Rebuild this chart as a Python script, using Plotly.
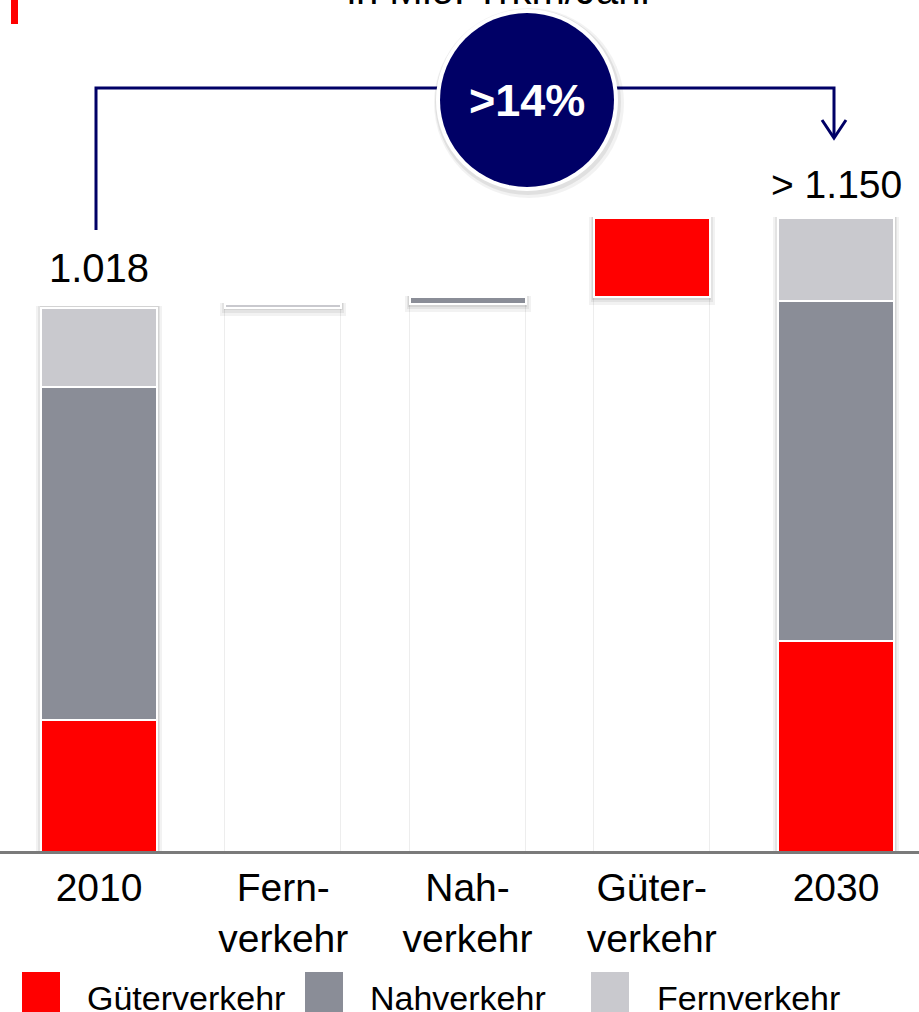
import plotly.graph_objects as go

# Categories and segment values (Mio. Trkm/Jahr)
categories = ["2010", "Fern-<br>verkehr", "Nah-<br>verkehr", "Güter-<br>verkehr", "2030"]
is_total = [True, False, False, False, True]
gueterverkehr = [247, 0, 0, 148, 395]
nahverkehr = [623, 0, 13, 0, 636]
fernverkehr = [148, 7, 0, 0, 155]
series_names = ["Güterverkehr", "Nahverkehr", "Fernverkehr"]
series_values = [gueterverkehr, nahverkehr, fernverkehr]
series_colors = ["#FF0000", "#8A8D97", "#C9C9CE"]
total_label_2010 = "1.018"
total_label_2030 = "> 1.150"
growth_label = ">14%"
unit_label = "in Mio. Trkm/Jahr"

W, H = 919, 1012
M_BOTTOM = 160
PLOT_H = H - M_BOTTOM
Y_MAX = 1594.3
STEP = 184.25
X0 = 99
FONT = "Liberation Sans, Arial, sans-serif"
NAVY = "#000066"


def fx(p):
    return p / W


def fy(p):
    return (PLOT_H - p) / PLOT_H


# stacking: total columns stack from zero, change columns float on the running total
n = len(categories)
bases = [[0.0] * n for _ in series_values]
running = 0.0
col_bottom, col_top = [], []
for i in range(n):
    if is_total[i]:
        acc = 0.0
        for s, vals in enumerate(series_values):
            bases[s][i] = acc
            acc += vals[i]
        col_bottom.append(0.0)
        col_top.append(acc)
        running = acc
    else:
        start = running
        for s, vals in enumerate(series_values):
            bases[s][i] = running
            running += vals[i]
        col_bottom.append(start)
        col_top.append(running)

xs = list(range(n))
bar_w = 116 / STEP
px_unit = PLOT_H / Y_MAX

fig = go.Figure()

# faint empty column under the floating change bars
fig.add_trace(go.Bar(
    x=xs, y=[col_bottom[i] if not is_total[i] else 0 for i in xs], base=0,
    width=bar_w, marker=dict(color="white", line=dict(color="rgba(0,0,0,0.07)", width=1)),
    showlegend=False, hoverinfo="skip"))

# soft shadows around each column
for extra, alpha in [(10, 0.05), (6, 0.06), (3, 0.07)]:
    sb = [col_bottom[i] - (0 if is_total[i] else extra * 0.8 / px_unit) for i in xs]
    st = [col_top[i] + 1.5 / px_unit for i in xs]
    fig.add_trace(go.Bar(
        x=xs, y=[t - b for t, b in zip(st, sb)], base=sb,
        width=bar_w + extra / STEP,
        marker=dict(color=f"rgba(0,0,0,{alpha})", line=dict(width=0)),
        showlegend=False, hoverinfo="skip"))

for s, (name, vals, col) in enumerate(zip(series_names, series_values, series_colors)):
    fig.add_trace(go.Bar(
        x=xs, y=vals, base=bases[s], name=name, width=bar_w,
        marker=dict(color=col, line=dict(color="white", width=2)),
        showlegend=False))

shapes = []
annotations = []

# baseline
shapes.append(dict(type="line", xref="paper", yref="paper", x0=0, x1=1, y0=fy(852.5), y1=fy(852.5),
                   line=dict(color="#7A7A7A", width=3)))

# red corner marker
shapes.append(dict(type="rect", xref="paper", yref="paper", x0=fx(11), x1=fx(18),
                   y0=fy(24), y1=fy(-5), fillcolor="#FF0000", line=dict(width=0)))

# connector from 2010 to 2030
shapes.append(dict(type="path", xref="paper", yref="paper",
                   path=f"M {fx(96)} {fy(230)} L {fx(96)} {fy(88)} L {fx(440)} {fy(88)}",
                   line=dict(color=NAVY, width=3)))
shapes.append(dict(type="path", xref="paper", yref="paper",
                   path=f"M {fx(614)} {fy(88)} L {fx(834)} {fy(88)} L {fx(834)} {fy(137)}",
                   line=dict(color=NAVY, width=3)))
shapes.append(dict(type="path", xref="paper", yref="paper",
                   path=f"M {fx(822)} {fy(120)} L {fx(834)} {fy(138)} L {fx(846)} {fy(120)}",
                   line=dict(color=NAVY, width=3)))

# growth badge
cx, cy = 527, 100
for r, dx, dy, fill in [(95, 2, 3, "rgba(0,0,0,0.05)"), (93, 1, 2, "rgba(0,0,0,0.07)"),
                        (91, 0, 0, "white"), (87, 0, 0, NAVY)]:
    shapes.append(dict(type="circle", xref="paper", yref="paper",
                       x0=fx(cx + dx - r), x1=fx(cx + dx + r),
                       y0=fy(cy + dy + r), y1=fy(cy + dy - r),
                       fillcolor=fill, line=dict(width=0)))
annotations.append(dict(text=f"<b>{growth_label}</b>", xref="paper", yref="paper",
                        x=fx(cx), y=fy(cy), showarrow=False, xanchor="center", yanchor="middle",
                        font=dict(family=FONT, size=45, color="white")))

# unit line at the top edge
annotations.append(dict(text=unit_label, xref="paper", yref="paper", x=fx(500), y=fy(14),
                        showarrow=False, xanchor="center", yanchor="bottom",
                        font=dict(family=FONT, size=40, color="black")))

# totals
annotations.append(dict(text=total_label_2010, xref="x", yref="paper", x=0, y=fy(268),
                        showarrow=False, xanchor="center", yanchor="middle",
                        font=dict(family=FONT, size=40, color="black")))
annotations.append(dict(text=total_label_2030, xref="x", yref="paper", x=4, y=fy(184),
                        showarrow=False, xanchor="center", yanchor="middle",
                        font=dict(family=FONT, size=39, color="black")))

# legend
legend_items = [(22, 85), (305, 368), (591, 655)]
for (sx, tx), name, col in zip(legend_items, series_names, series_colors):
    shapes.append(dict(type="rect", xref="paper", yref="paper", x0=fx(sx), x1=fx(sx + 38),
                       y0=fy(1020), y1=fy(972), fillcolor=col, line=dict(width=0)))
    annotations.append(dict(text=name, xref="paper", yref="paper", x=fx(tx), y=fy(998),
                            showarrow=False, xanchor="left", yanchor="middle",
                            font=dict(family=FONT, size=34, color="black")))

fig.update_layout(
    width=W, height=H,
    margin=dict(l=0, r=0, t=0, b=M_BOTTOM, pad=0),
    paper_bgcolor="white", plot_bgcolor="white",
    barmode="overlay", bargap=0,
    showlegend=False,
    shapes=shapes, annotations=annotations,
    xaxis=dict(range=[-X0 / STEP, (W - X0) / STEP], tickmode="array", tickvals=xs,
               ticktext=categories, showgrid=False, zeroline=False, showline=False,
               ticks="", tickfont=dict(family=FONT, size=39, color="black"),
               ticklabelstandoff=9),
    yaxis=dict(range=[0, Y_MAX], visible=False),
)

fig.write_html("out.html")
